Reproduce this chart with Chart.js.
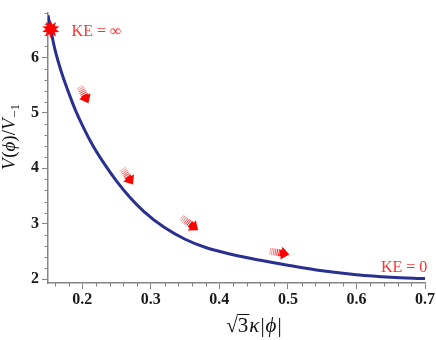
<!DOCTYPE html>
<html>
<head>
<meta charset="utf-8">
<script src="https://cdn.jsdelivr.net/npm/chart.js@4"></script>
<style>
  html, body { margin: 0; padding: 0; background: #fff; }
  canvas { display: block; }
</style>
</head>
<body>
<canvas id="chart" width="436" height="340"></canvas>
<script>
// potential curve
const phiValues = [0.150, 0.154, 0.160, 0.170, 0.180, 0.190, 0.200, 0.215, 0.230, 0.250, 0.270, 0.290,
                   0.320, 0.350, 0.380, 0.420, 0.460, 0.500, 0.550, 0.600, 0.650, 0.700];
const potentialValues = [6.76, 6.51, 6.15, 5.72, 5.37, 5.05, 4.78, 4.42, 4.12, 3.77, 3.47, 3.22,
                         2.93, 2.72, 2.57, 2.44, 2.34, 2.25, 2.15, 2.08, 2.035, 2.01];

const xTickValues = [0.2, 0.3, 0.4, 0.5, 0.6, 0.7];
const yTickValues = [2, 3, 4, 5, 6];

// starting point (KE = infinity)
const starX = [0.154];
const starY = [6.51];

// motion arrows: tail -> tip
const arrowTailX = [0.197, 0.259, 0.345, 0.474];
const arrowTailY = [5.465, 3.984, 3.113, 2.503];
const arrowTipX = [0.209, 0.274, 0.369, 0.502];
const arrowTipY = [5.174, 3.706, 2.882, 2.446];

const noteTexts = ['KE = \u221E', 'KE = 0'];
const noteX = [0.1844, 0.7034];
const noteY = [6.394, 2.125];
const noteAlign = ['left', 'right'];

const RED = '#ff0000';
const AXIS_GREY = '#858585';
const SERIF = "'Liberation Serif', 'DejaVu Serif', serif";

function drawArrow(ctx, x0, y0, x1, y1) {
  const dx = x1 - x0, dy = y1 - y0;
  const len = Math.hypot(dx, dy);
  const ux = dx / len, uy = dy / len;
  const nx = -uy, ny = ux;
  ctx.save();
  ctx.strokeStyle = RED;
  ctx.fillStyle = RED;
  ctx.lineWidth = 1;
  for (let i = 0; i < 6; i++) {
    const t = i * 1.8;
    const px = x0 + ux * t, py = y0 + uy * t;
    ctx.globalAlpha = 0.35 + i * 0.12;
    ctx.beginPath();
    ctx.moveTo(px + nx * 3.5, py + ny * 3.5);
    ctx.lineTo(px - nx * 3.5, py - ny * 3.5);
    ctx.stroke();
  }
  ctx.globalAlpha = 1;
  // shaft
  const s0 = len * 0.5, s1 = len * 0.7;
  ctx.beginPath();
  ctx.moveTo(x0 + ux * s0 + nx * 3.5, y0 + uy * s0 + ny * 3.5);
  ctx.lineTo(x0 + ux * s1 + nx * 3.5, y0 + uy * s1 + ny * 3.5);
  ctx.lineTo(x0 + ux * s1 - nx * 3.5, y0 + uy * s1 - ny * 3.5);
  ctx.lineTo(x0 + ux * s0 - nx * 3.5, y0 + uy * s0 - ny * 3.5);
  ctx.closePath();
  ctx.fill();
  // head
  const h = len - 8;
  ctx.beginPath();
  ctx.moveTo(x1, y1);
  ctx.lineTo(x0 + ux * h + nx * 6.5, y0 + uy * h + ny * 6.5);
  ctx.lineTo(x0 + ux * h - nx * 6.5, y0 + uy * h - ny * 6.5);
  ctx.closePath();
  ctx.fill();
  ctx.restore();
}

function drawStar(ctx, cx, cy) {
  const spikes = 10, outer = 9, inner = 5;
  ctx.save();
  ctx.fillStyle = RED;
  ctx.beginPath();
  for (let i = 0; i < spikes * 2; i++) {
    const r = i % 2 === 0 ? outer : inner;
    const a = -Math.PI / 2 + i * Math.PI / spikes;
    const px = cx + r * Math.cos(a), py = cy + r * Math.sin(a);
    if (i === 0) ctx.moveTo(px, py); else ctx.lineTo(px, py);
  }
  ctx.closePath();
  ctx.fill();
  ctx.restore();
}

// draw a list of [text, font, dy, gap] pieces starting at x
function drawPieces(ctx, pieces, x, y) {
  let cx = x;
  pieces.forEach(p => {
    ctx.font = p[1];
    ctx.fillText(p[0], cx, y + (p[2] || 0));
    cx += ctx.measureText(p[0]).width + (p[3] || 0);
  });
  return cx - x;
}
function measurePieces(ctx, pieces) {
  let w = 0;
  pieces.forEach(p => { ctx.font = p[1]; w += ctx.measureText(p[0]).width + (p[3] || 0); });
  return w;
}

const decorPlugin = {
  id: 'decor',
  afterDraw(chart) {
    const ctx = chart.ctx;
    const xs = chart.scales.x, ys = chart.scales.y;
    const area = chart.chartArea;

    // minor ticks
    ctx.save();
    ctx.strokeStyle = AXIS_GREY;
    ctx.lineWidth = 1;
    for (let k = 8; k <= 35; k++) {
      if (k % 5 === 0) continue;
      const px = Math.round(xs.getPixelForValue(k * 0.02)) + 0.5;
      ctx.beginPath();
      ctx.moveTo(px, area.bottom);
      ctx.lineTo(px, area.bottom + 3.5);
      ctx.stroke();
    }
    for (let k = 10; k <= 34; k++) {
      if (k % 5 === 0) continue;
      const py = Math.round(ys.getPixelForValue(k * 0.2)) + 0.5;
      ctx.beginPath();
      ctx.moveTo(area.left, py);
      ctx.lineTo(area.left - 3.5, py);
      ctx.stroke();
    }
    ctx.restore();

    // arrows
    arrowTailX.forEach((tx, i) => {
      drawArrow(ctx,
        xs.getPixelForValue(tx), ys.getPixelForValue(arrowTailY[i]),
        xs.getPixelForValue(arrowTipX[i]), ys.getPixelForValue(arrowTipY[i]));
    });

    // star
    starX.forEach((sx, i) => drawStar(ctx, xs.getPixelForValue(sx), ys.getPixelForValue(starY[i])));

    // notes
    ctx.save();
    ctx.fillStyle = '#ff3333';
    ctx.font = '16px ' + SERIF;
    ctx.textBaseline = 'alphabetic';
    noteTexts.forEach((t, i) => {
      ctx.textAlign = noteAlign[i];
      ctx.fillText(t, xs.getPixelForValue(noteX[i]), ys.getPixelForValue(noteY[i]));
    });
    ctx.restore();

    // axis titles
    ctx.save();
    ctx.fillStyle = '#111';
    ctx.textBaseline = 'alphabetic';
    ctx.textAlign = 'left';
    const it = 'italic 19px ' + SERIF, up = '19px ' + SERIF, sub = '13px ' + SERIF;
    const yPieces = [['V', it, 0, 0.5], ['(', up], ['\u03D5', it], [')', up], ['/', up], ['V', it, 0, 0.5], ['\u22121', sub, 4]];
    const yw = measurePieces(ctx, yPieces);
    ctx.translate(15, 137);
    ctx.rotate(-Math.PI / 2);
    drawPieces(ctx, yPieces, -yw / 2, 0);
    ctx.restore();

    ctx.save();
    ctx.fillStyle = '#111';
    ctx.textBaseline = 'alphabetic';
    ctx.textAlign = 'left';
    const f = '21px ' + SERIF, fi = 'italic 21px ' + SERIF;
    const xPieces = [['\u221A', f], ['3', f, 0, 1], ['\u03BA', fi, 0, 1], ['|', f, 0, 1], ['\u03D5', fi, 0, 1], ['|', f]];
    const xw = measurePieces(ctx, xPieces);
    const x0 = 254 - xw / 2, base = 332;
    drawPieces(ctx, xPieces, x0, base);
    ctx.font = f;
    const rw = ctx.measureText('\u221A').width, tw = ctx.measureText('3').width;
    ctx.strokeStyle = '#111';
    ctx.lineWidth = 1;
    ctx.beginPath();
    ctx.moveTo(x0 + rw - 1, base - 17.5);
    ctx.lineTo(x0 + rw + tw + 1, base - 17.5);
    ctx.stroke();
    ctx.restore();
  }
};

const tickFont = { family: SERIF, size: 16, weight: 'bold' };

new Chart(document.getElementById('chart'), {
  type: 'line',
  data: {
    datasets: [{
      data: phiValues.map((x, i) => ({ x, y: potentialValues[i] })),
      borderColor: '#2a308f',
      borderWidth: 3,
      pointRadius: 0,
      fill: false,
      cubicInterpolationMode: 'monotone'
    }]
  },
  options: {
    responsive: false,
    animation: false,
    layout: { padding: { top: 3, right: 9, left: 0, bottom: 0 } },
    plugins: { legend: { display: false }, tooltip: { enabled: false } },
    scales: {
      x: {
        type: 'linear',
        min: 0.15,
        max: 0.7,
        afterBuildTicks: s => { s.ticks = xTickValues.map(v => ({ value: v })); },
        afterFit: s => { s.height = 57; },
        ticks: { font: tickFont, color: '#1a1a1a', padding: 1, maxRotation: 0, callback: v => v.toFixed(1) },
        grid: { drawOnChartArea: false, drawTicks: true, tickLength: 6, tickColor: AXIS_GREY },
        border: { color: AXIS_GREY, width: 1.5 }
      },
      y: {
        min: 1.93,
        max: 6.81,
        afterBuildTicks: s => { s.ticks = yTickValues.map(v => ({ value: v })); },
        afterFit: s => { s.width = 48; },
        ticks: { font: tickFont, color: '#1a1a1a', padding: 3, callback: v => String(v) },
        grid: { drawOnChartArea: false, drawTicks: true, tickLength: 6, tickColor: AXIS_GREY },
        border: { color: AXIS_GREY, width: 1.5 }
      }
    }
  },
  plugins: [decorPlugin]
});
</script>
</body>
</html>
